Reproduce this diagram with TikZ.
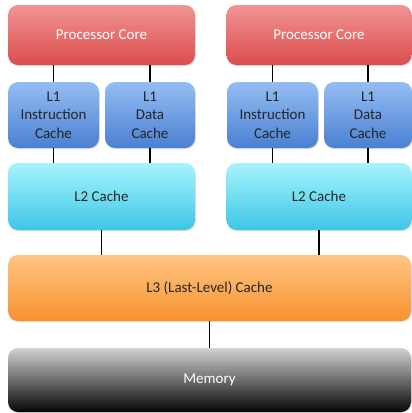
\documentclass[tikz,border=0pt]{standalone}
\usepackage{fontspec}
\setmainfont{Carlito}
\usetikzlibrary{positioning,shadows}

\definecolor{coretop}{HTML}{F29494}
\definecolor{corebot}{HTML}{DB4D4D}
\definecolor{lonetop}{HTML}{95BDF3}
\definecolor{lonebot}{HTML}{4A80D2}
\definecolor{ltwotop}{HTML}{A6F4FC}
\definecolor{ltwobot}{HTML}{3EC6E6}
\definecolor{lthreetop}{HTML}{FFC584}
\definecolor{lthreebot}{HTML}{F7922E}
\definecolor{memtop}{HTML}{D2D2D2}
\definecolor{membot}{HTML}{050505}

\begin{document}
\begin{tikzpicture}[x=1pt,y=-1pt]
    \tikzstyle{block} = [rectangle, rounded corners=10pt, draw=none,
               align=center, font=\fontsize{15}{18.5}\selectfont,
               drop shadow={opacity=0.25, shadow xshift=0.8pt, shadow yshift=-1.2pt}]
    \tikzstyle{core} = [block, top color=coretop, bottom color=corebot, text=white]
    \tikzstyle{lone} = [block, top color=lonetop, bottom color=lonebot, text=black!85]
    \tikzstyle{ltwo} = [block, top color=ltwotop, bottom color=ltwobot, text=black!85]
    \tikzstyle{lthree} = [block, top color=lthreetop, bottom color=lthreebot, text=black!85]
    \tikzstyle{mem} = [block, top color=memtop, bottom color=membot, text=white]
    \tikzstyle{line} = [draw, line width=1.8pt, black]

    \useasboundingbox (0,0) rectangle (412,413);

    % left processor
    \node [core, minimum width=187pt, minimum height=60pt] (coreA) at (101.5,35) {Processor Core};
    \node [lone, minimum width=91pt, minimum height=66pt] (instA) at (53.5,115) {L1\\Instruction\\Cache};
    \node [lone, minimum width=90pt, minimum height=66pt] (dataA) at (150,115) {L1\\Data\\Cache};
    \node [ltwo, minimum width=187pt, minimum height=67pt] (ltwoA) at (101.5,196.5) {L2 Cache};

    % right processor
    \node [core, minimum width=185pt, minimum height=60pt] (coreB) at (319,35) {Processor Core};
    \node [lone, minimum width=91pt, minimum height=66pt] (instB) at (272.5,115) {L1\\Instruction\\Cache};
    \node [lone, minimum width=88pt, minimum height=66pt] (dataB) at (368,115) {L1\\Data\\Cache};
    \node [ltwo, minimum width=185pt, minimum height=67pt] (ltwoB) at (319,196.5) {L2 Cache};

    % shared levels
    \node [lthree, minimum width=403pt, minimum height=66pt] (lthree) at (209.5,288) {L3 (Last-Level) Cache};
    \node [mem, minimum width=403pt, minimum height=64pt] (memory) at (209.5,380) {Memory};

    \path [line] (instA.north) -- (instA.north |- coreA.south);
    \path [line] (dataA.north) -- (dataA.north |- coreA.south);
    \path [line] (instA.south) -- (instA.south |- ltwoA.north);
    \path [line] (dataA.south) -- (dataA.south |- ltwoA.north);
    \path [line] (instB.north) -- (instB.north |- coreB.south);
    \path [line] (dataB.north) -- (dataB.north |- coreB.south);
    \path [line] (instB.south) -- (instB.south |- ltwoB.north);
    \path [line] (dataB.south) -- (dataB.south |- ltwoB.north);
    \path [line] (ltwoA.south) -- (ltwoA.south |- lthree.north);
    \path [line] (ltwoB.south) -- (ltwoB.south |- lthree.north);
    \path [line] (lthree.south) -- (memory.north);

  \end{tikzpicture}
\end{document}
